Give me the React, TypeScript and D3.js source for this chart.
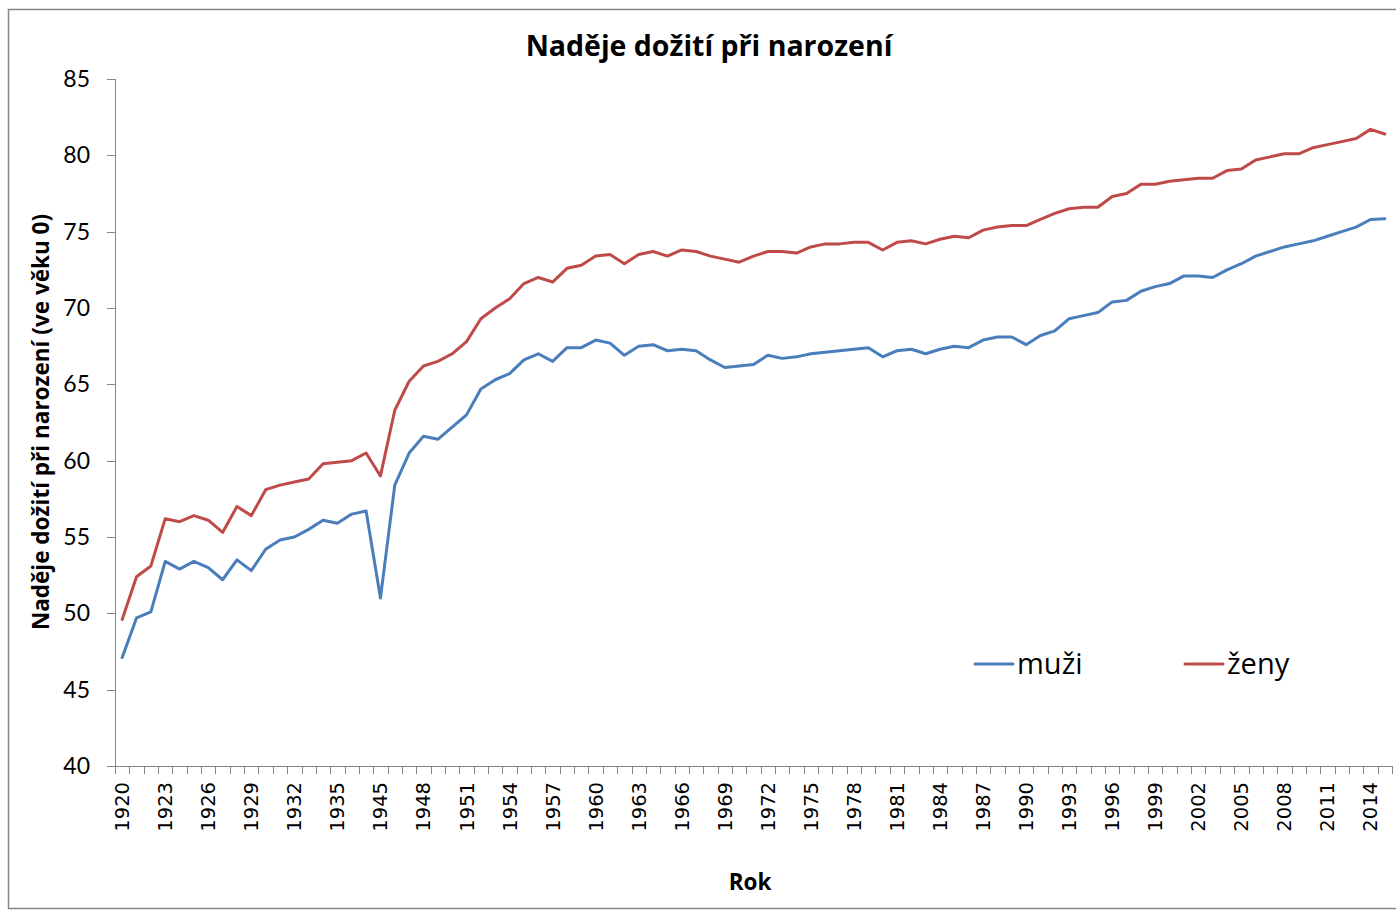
import React from "react";
import * as d3 from "d3";

const years: number[] = [
  1920, 1921, 1922, 1923, 1924, 1925, 1926, 1927, 1928, 1929, 1930, 1931, 1932, 1933, 1934, 1935, 1936, 1937,
  1945, 1946, 1947, 1948, 1949, 1950, 1951, 1952, 1953, 1954, 1955, 1956, 1957, 1958, 1959, 1960, 1961, 1962,
  1963, 1964, 1965, 1966, 1967, 1968, 1969, 1970, 1971, 1972, 1973, 1974, 1975, 1976, 1977, 1978, 1979, 1980,
  1981, 1982, 1983, 1984, 1985, 1986, 1987, 1988, 1989, 1990, 1991, 1992, 1993, 1994, 1995, 1996, 1997, 1998,
  1999, 2000, 2001, 2002, 2003, 2004, 2005, 2006, 2007, 2008, 2009, 2010, 2011, 2012, 2013, 2014, 2015,
];

const muzi: number[] = [
  47.1, 49.7, 50.1, 53.4, 52.9, 53.4, 53.0, 52.2, 53.5, 52.8, 54.2, 54.8, 55.0, 55.5, 56.1, 55.9, 56.5, 56.7,
  51.0, 58.4, 60.5, 61.6, 61.4, 62.2, 63.0, 64.7, 65.3, 65.7, 66.6, 67.0, 66.5, 67.4, 67.4, 67.9, 67.7, 66.9,
  67.5, 67.6, 67.2, 67.3, 67.2, 66.6, 66.1, 66.2, 66.3, 66.9, 66.7, 66.8, 67.0, 67.1, 67.2, 67.3, 67.4, 66.8,
  67.2, 67.3, 67.0, 67.3, 67.5, 67.4, 67.9, 68.1, 68.1, 67.6, 68.2, 68.5, 69.3, 69.5, 69.7, 70.4, 70.5, 71.1,
  71.4, 71.6, 72.1, 72.1, 72.0, 72.5, 72.9, 73.4, 73.7, 74.0, 74.2, 74.4, 74.7, 75.0, 75.3, 75.8, 75.85,
];

const zeny: number[] = [
  49.6, 52.4, 53.1, 56.2, 56.0, 56.4, 56.1, 55.3, 57.0, 56.4, 58.1, 58.4, 58.6, 58.8, 59.8, 59.9, 60.0, 60.5,
  59.0, 63.3, 65.2, 66.2, 66.5, 67.0, 67.8, 69.3, 70.0, 70.6, 71.6, 72.0, 71.7, 72.6, 72.8, 73.4, 73.5, 72.9,
  73.5, 73.7, 73.4, 73.8, 73.7, 73.4, 73.2, 73.0, 73.4, 73.7, 73.7, 73.6, 74.0, 74.2, 74.2, 74.3, 74.3, 73.8,
  74.3, 74.4, 74.2, 74.5, 74.7, 74.6, 75.1, 75.3, 75.4, 75.4, 75.8, 76.2, 76.5, 76.6, 76.6, 77.3, 77.5, 78.1,
  78.1, 78.3, 78.4, 78.5, 78.5, 79.0, 79.1, 79.7, 79.9, 80.1, 80.1, 80.5, 80.7, 80.9, 81.1, 81.7, 81.4,
];

const yTicks: number[] = [40, 45, 50, 55, 60, 65, 70, 75, 80, 85];
const seriesNames: string[] = ["muži", "ženy"];
const seriesColors: string[] = ["#4A7EBB", "#BE4B48"];

const W = 1396;
const H = 910;
const L = 115;
const R = 1392;
const T = 79;
const B = 766;

export default function App() {
  const x = d3.scaleBand<string>().domain(years.map(String)).range([L, R]).padding(0);
  const y = d3.scaleLinear().domain([40, 85]).range([B, T]);
  const cx = (i: number) => (x(String(years[i])) as number) + x.bandwidth() / 2;
  const line = d3
    .line<number>()
    .x((_, i) => cx(i))
    .y((d) => y(d));
  const series = [muzi, zeny];
  const boundaries = d3.range(years.length + 1).map((i) => L + i * x.bandwidth());
  const font = "Lato, 'Open Sans', sans-serif";
  const font2 = "'Open Sans', Lato, sans-serif";

  return (
    <svg
      width={W}
      height={H}
      style={{ position: "absolute", left: 0, top: 0, display: "block", background: "#fff" }}
    >
      <rect x={8.5} y={9.5} width={W + 10} height={899} fill="#fff" stroke="#868686" strokeWidth={1.5} />
      <text x={709} y={56} textAnchor="middle" fontFamily={font2} fontWeight={700} fontSize={28.5} fill="#000">
        Naděje dožití při narození
      </text>

      {/* y axis */}
      <line x1={L + 0.5} x2={L + 0.5} y1={T} y2={B + 8} stroke="#868686" strokeWidth={1} />
      {yTicks.map((t) => (
        <g key={t}>
          <line x1={L - 8} x2={L} y1={Math.round(y(t)) + 0.5} y2={Math.round(y(t)) + 0.5} stroke="#868686" />
          <text x={90} y={y(t) + 8} textAnchor="end" fontFamily={font} fontSize={23} fill="#000">
            {t}
          </text>
        </g>
      ))}

      {/* x axis */}
      <line x1={L} x2={R} y1={B + 0.5} y2={B + 0.5} stroke="#868686" strokeWidth={1} />
      {boundaries.map((bx, i) => (
        <line key={i} x1={Math.round(bx) + 0.5} x2={Math.round(bx) + 0.5} y1={B} y2={B + 8} stroke="#868686" />
      ))}
      {years.map((yr, i) =>
        i % 3 === 0 ? (
          <text
            key={yr}
            transform={`translate(${cx(i) + 7},${782}) rotate(-90)`}
            textAnchor="end"
            fontFamily="'DejaVu Sans', sans-serif"
            fontSize={19.5}
            fill="#000"
          >
            {yr}
          </text>
        ) : null
      )}

      {series.map((s, k) => (
        <path
          key={k}
          d={line(s) || ""}
          fill="none"
          stroke={seriesColors[k]}
          strokeWidth={3}
          strokeLinejoin="round"
          strokeLinecap="round"
        />
      ))}

      {/* axis titles */}
      <text
        transform={`translate(49,422) rotate(-90)`}
        textAnchor="middle"
        fontFamily={font2}
        fontWeight={700}
        fontSize={22.5}
        fill="#000"
      >
        Naděje dožití při narození (ve věku 0)
      </text>
      <text x={750} y={890} textAnchor="middle" fontFamily={font2} fontWeight={700} fontSize={22.5} fill="#000">
        Rok
      </text>

      {/* legend */}
      {seriesNames.map((n, k) => {
        const lx = 975 + k * 210;
        return (
          <g key={n}>
            <line x1={lx} x2={lx + 38} y1={664} y2={664} stroke={seriesColors[k]} strokeWidth={3} strokeLinecap="round" />
            <text x={lx + 42} y={674} fontFamily={font2} fontSize={29} fill="#000">
              {n}
            </text>
          </g>
        );
      })}
    </svg>
  );
}
